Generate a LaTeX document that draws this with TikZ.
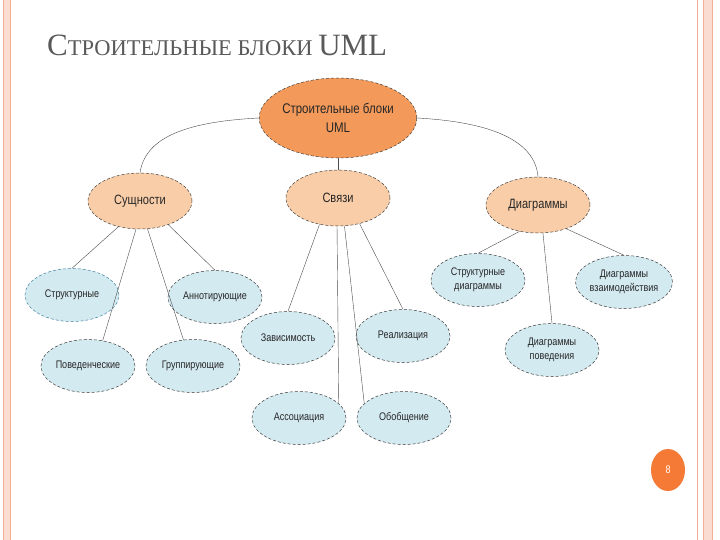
\documentclass[tikz,border=0pt]{standalone}
\usepackage{fontspec}
\setmainfont{Liberation Sans}[FakeStretch=0.82]
\newfontfamily\serifru{Liberation Serif}
\usetikzlibrary{shapes.geometric}
\definecolor{rootc}{HTML}{F39A5B}
\definecolor{midc}{HTML}{F9CDA8}
\definecolor{leafc}{HTML}{D4EAF1}
\definecolor{framec}{HTML}{F4AE96}
\definecolor{framel}{HTML}{FBDCD0}
\definecolor{pagec}{HTML}{F47A35}
\tikzset{
  base/.style={ellipse,draw=black!75,densely dashed,line width=0.5pt,inner sep=0pt,align=center,
    font=\fontsize{11}{14}\selectfont,text=black!85},
  rootn/.style={base,fill=rootc,minimum width=146pt,minimum height=80pt,font=\fontsize{14}{19}\selectfont},
  midn/.style={base,fill=midc,minimum width=104pt,minimum height=56pt,font=\fontsize{13.5}{15}\selectfont},
  leafn/.style={base,fill=leafc,minimum width=94pt,minimum height=53pt},
  conn/.style={draw=black!70,line width=0.4pt}
}
\begin{document}
\begin{tikzpicture}[x=1pt,y=-1pt]
\useasboundingbox (0,0) rectangle (720,540);
\fill[white] (0,0) rectangle (720,540);
% frame
\fill[framel] (3,0) rectangle (11,540);
\draw[framec,line width=1pt] (3.5,0) -- (3.5,540) (10.5,0) -- (10.5,540);
\draw[framec,line width=1pt] (697,0) -- (697,540);
\fill[framel] (703,0) rectangle (713,540);
\draw[framec,line width=1pt] (703.5,0) -- (703.5,540) (712.5,0) -- (712.5,540);
% title
\node[anchor=base west,inner sep=0pt,text=black!65] (title) at (47,56)
  {\serifru\fontsize{31}{34}\selectfont С\fontsize{22.5}{26}\selectfont ТРОИТЕЛЬНЫЕ БЛОКИ \fontsize{31}{34}\selectfont UML};
% nodes
\node[rootn] (root) at (338,118) {Строительные блоки\\UML};
\node[midn] (ent) at (140,201) {Сущности};
\node[midn] (rel) at (338,198) {Связи};
\node[midn] (dia) at (538,205) {Диаграммы};
\node[leafn,draw=cyan!60!black] (s1) at (72,295) {Структурные};
\node[leafn] (s2) at (215,297) {Аннотирующие};
\node[leafn] (s3) at (88,366) {Поведенческие};
\node[leafn] (s4) at (193,366) {Группирующие};
\node[leafn] (r1) at (288,338) {Зависимость};
\node[leafn] (r2) at (403,336) {Реализация};
\node[leafn] (r3) at (299,418) {Ассоциация};
\node[leafn] (r4) at (404,418) {Обобщение};
\node[leafn] (d1) at (478,280) {Структурные\\диаграммы};
\node[leafn] (d2) at (624,282) {Диаграммы\\взаимодействия};
\node[leafn] (d3) at (552,350) {Диаграммы\\поведения};
% page number
\node[ellipse,fill=pagec,minimum width=34pt,minimum height=42pt,inner sep=0pt,text=white,font=\fontsize{11}{12}\selectfont] (pg) at (668,470) {8};
% connectors
\draw[conn] (root.west) .. controls (180,122) and (145,140) .. (ent.north);
\draw[conn] (root.east) .. controls (490,122) and (535,140) .. (dia.north);
\draw[conn] (root.south) -- (rel.north);
\draw[conn] (ent.230) -- (s1.north);
\draw[conn] (ent.262) -- (s3.60);
\draw[conn] (ent.285) -- (s4.110);
\draw[conn] (ent.320) -- (s2.north);
\draw[conn] (rel.235) -- (r1.north);
\draw[conn] (rel.268) -- (r3.20);
\draw[conn] (rel.283) -- (r4.160);
\draw[conn] (rel.310) -- (r2.north);
\draw[conn] (dia.235) -- (d1.north);
\draw[conn] (dia.280) -- (d3.north);
\draw[conn] (dia.320) -- (d2.north);
\end{tikzpicture}
\end{document}
